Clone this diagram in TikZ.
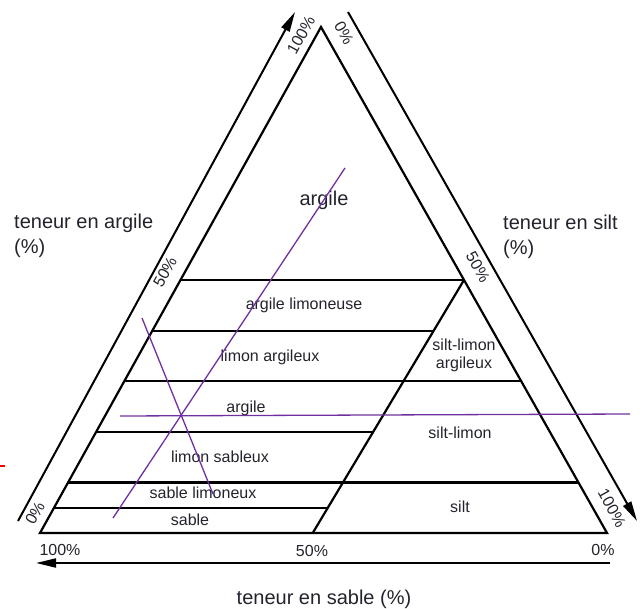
\documentclass[tikz,border=0pt]{standalone}
\usepackage{fontspec}
\setmainfont{Liberation Sans}
\usetikzlibrary{arrows.meta,calc}
\definecolor{txtgray}{RGB}{35,35,45}
\definecolor{traitviolet}{RGB}{112,48,160}
\tikzset{
  bord/.style={line width=2.2pt, line join=miter},
  axe/.style={line width=2pt, -{Triangle[length=20pt,width=9pt]}},
  pct/.style={font=\fontsize{16}{19}\selectfont, text=txtgray, inner sep=0pt},
  classe/.style={font=\fontsize{16}{18}\selectfont, text=txtgray, inner sep=0pt, align=center},
  titre/.style={font=\fontsize{20}{25}\selectfont, text=txtgray, inner sep=0pt, align=left},
  lecture/.style={traitviolet, line width=1.3pt},
}
\begin{document}
\begin{tikzpicture}[x=1pt, y=-1pt]
    \useasboundingbox (0,0) rectangle (644,609);

    % Sommets du triangle
    \coordinate (L) at (40,533);
    \coordinate (R) at (607,533);
    \coordinate (T) at (321,27);
    % Limite 50 % sable
    \coordinate (B) at ($(L)!0.481!(R)$);
    \coordinate (M) at ($(R)!0.5!(T)$);

    % Limites des classes (teneur en argile)
    \foreach \c/\n in {0.5/a, 0.4/b, 0.3/c, 0.2/d, 0.1/e, 0.05/f}
        \coordinate (g\n) at ($(L)!\c!(T)$);
    \foreach \c/\n in {0.5/a, 0.3/c, 0.1/e}
        \coordinate (d\n) at ($(R)!\c!(T)$);
    \foreach \c/\n in {0.4/b, 0.2/d, 0.05/f}
        \coordinate (d\n) at ($(B)!2*\c!(M)$);
    \foreach \n in {a,b,c,d,e,f}
        \draw[bord] (g\n) -- (d\n);
    \draw[bord] (M) -- (B);

    % Triangle
    \draw[bord] (L) -- (R) -- (T) -- cycle;

    % Axes
    \coordinate (ag1) at (18,521);  \coordinate (ag2) at (295,12);
    \coordinate (si1) at (348,12);  \coordinate (si2) at (637,521);
    \coordinate (sa1) at (610,563); \coordinate (sa2) at (36,563);
    \draw[axe] (ag1) -- (ag2);
    \draw[axe] (si1) -- (si2);
    \draw[axe] (sa1) -- (sa2);

    % Graduations
    \node[pct, rotate=61] (p100g) at (301,35) {100\%};
    \node[pct, rotate=61] (p50g) at (165,272) {50\%};
    \node[pct, rotate=61] (p0g) at (35,513) {0\%};
    \node[pct, rotate=-61] (p0d) at (344,33) {0\%};
    \node[pct, rotate=-61] (p50d) at (478,267) {50\%};
    \node[pct, rotate=-61] (p100d) at (612,508) {100\%};
    \node[pct] (p100b) at (60,550) {100\%};
    \node[pct] (p50b) at (312,551) {50\%};
    \node[pct] (p0b) at (603,550) {0\%};

    % Titres des axes
    \node[titre, anchor=west] (targile) at (14,236) {teneur en argile\\(\%)};
    \node[titre, anchor=west] (tsilt) at (503,237) {teneur en silt\\(\%)};
    \node[titre] (tsable) at (324,599) {teneur en sable (\%)};

    % Classes de texture
    \node[classe, font=\fontsize{20}{24}\selectfont] (c1) at (324,200) {argile};
    \node[classe] (c2) at (304,305) {argile limoneuse};
    \node[classe] (c3) at (270,357) {limon argileux};
    \node[classe] (c4) at (246,408) {argile};
    \node[classe] (c5) at (220,457) {limon sableux};
    \node[classe] (c6) at (203,493) {sable limoneux};
    \node[classe] (c7) at (190,520) {sable};
    \node[classe] (c8) at (464,355) {silt-limon\\argileux};
    \node[classe] (c9) at (460,433) {silt-limon};
    \node[classe] (c10) at (460,507) {silt};

    % Traits de lecture
    \coordinate (v1) at (345,168); \coordinate (v2) at (113,518);
    \coordinate (v3) at (142,318); \coordinate (v4) at (213,494);
    \coordinate (v5) at (120,416); \coordinate (v6) at (630,414);
    \draw[lecture] (v1) -- (v2);
    \draw[lecture] (v3) -- (v4);
    \draw[lecture] (v5) -- (v6);

    % Trait rouge
    \coordinate (r1) at (0,466); \coordinate (r2) at (5,466);
    \draw[red, line width=1.3pt] (r1) -- (r2);
\end{tikzpicture}
\end{document}
